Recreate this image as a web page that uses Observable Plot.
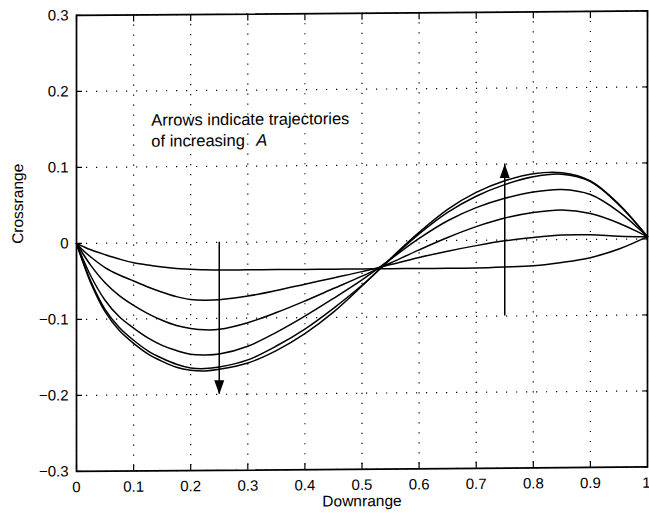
<!DOCTYPE html>
<html>
<head>
<meta charset="utf-8">
<script src="https://cdn.jsdelivr.net/npm/d3@7"></script>
<script src="https://cdn.jsdelivr.net/npm/@observablehq/plot@0.6"></script>
<style>
  html, body { margin: 0; padding: 0; background: #fff; overflow: hidden; }
  #chart svg { display: block; transform: skewY(-0.45deg); transform-origin: 50% 50%; }
</style>
</head>
<body>
<div id="chart"></div>
<script>
// Downrange sample positions
const downrange = [0, 0.01, 0.025, 0.05, 0.075, 0.1, 0.125, 0.15, 0.175, 0.2, 0.225, 0.25, 0.3, 0.35, 0.4, 0.45, 0.5, 0.55, 0.6, 0.65, 0.7, 0.75, 0.8, 0.85, 0.9, 0.95, 1];

// Crossrange of each trajectory (increasing A)
const crossrangeA1 = [0, -0.0035, -0.0085, -0.015, -0.021, -0.026, -0.029, -0.032, -0.034, -0.035, -0.036, -0.0365, -0.0365, -0.0365, -0.0365, -0.0365, -0.0365, -0.0365, -0.0365, -0.0365, -0.0365, -0.0355, -0.034, -0.030, -0.024, -0.013, 0.003];
const crossrangeA2 = [0, -0.008, -0.018, -0.032, -0.042, -0.050, -0.058, -0.065, -0.071, -0.075, -0.076, -0.0755, -0.071, -0.064, -0.056, -0.048, -0.040, -0.031, -0.022, -0.014, -0.007, -0.001, 0.003, 0.006, 0.006, 0.004, 0.003];
const crossrangeA3 = [0, -0.012, -0.029, -0.052, -0.069, -0.082, -0.093, -0.102, -0.109, -0.113, -0.115, -0.1145, -0.106, -0.093, -0.078, -0.062, -0.046, -0.029, -0.012, 0.004, 0.018, 0.029, 0.036, 0.039, 0.034, 0.021, 0.003];
const crossrangeA4 = [0, -0.018, -0.043, -0.075, -0.097, -0.112, -0.125, -0.135, -0.142, -0.147, -0.148, -0.147, -0.137, -0.119, -0.098, -0.075, -0.051, -0.024, 0.003, 0.026, 0.043, 0.055, 0.063, 0.066, 0.059, 0.036, 0.003];
const crossrangeA5 = [0, -0.021, -0.050, -0.087, -0.111, -0.128, -0.142, -0.152, -0.160, -0.165, -0.166, -0.164, -0.155, -0.137, -0.115, -0.088, -0.058, -0.024, 0.009, 0.037, 0.058, 0.073, 0.083, 0.086, 0.076, 0.045, 0.003];
const crossrangeA6 = [0, -0.022, -0.052, -0.090, -0.115, -0.132, -0.146, -0.156, -0.164, -0.168, -0.169, -0.167, -0.159, -0.143, -0.121, -0.093, -0.059, -0.023, 0.011, 0.041, 0.063, 0.078, 0.087, 0.088, 0.077, 0.046, 0.003];

// Axis ticks
const xTicks = [0, 0.1, 0.2, 0.3, 0.4, 0.5, 0.6, 0.7, 0.8, 0.9, 1];
const yTicks = [-0.3, -0.2, -0.1, 0, 0.1, 0.2, 0.3];

// Arrows (downrange position, start and end crossrange)
const arrowX = [0.25, 0.75];
const arrowFrom = [0, -0.1];
const arrowTo = [-0.2, 0.1];

// Texts
const xLabel = "Downrange";
const yLabel = "Crossrange";
const noteLine1 = "Arrows indicate trajectories";
const noteLine2 = "of increasing";
const noteSymbol = "A";

// Build tables for the library
const trajectories = [crossrangeA1, crossrangeA2, crossrangeA3, crossrangeA4, crossrangeA5, crossrangeA6];
const rows = trajectories.flatMap((ys, k) => ys.map((y, i) => ({x: downrange[i], y, k})));
const arrows = arrowX.map((x, i) => ({x, from: arrowFrom[i], to: arrowTo[i]}));
const xTicksInner = xTicks.slice(0, -1);
const xTickLast = xTicks.slice(-1);

// Filled arrowhead with tip at origin, pointing down
const arrowHead = {
  draw(ctx) {
    ctx.moveTo(0, 0);
    ctx.lineTo(-5, -14);
    ctx.lineTo(5, -14);
    ctx.closePath();
  }
};

const fmt = d => (d < 0 ? "\u2212" : "") + String(Math.abs(d));

const chart = Plot.plot({
  width: 649,
  height: 523,
  marginLeft: 76,
  marginRight: 2,
  marginTop: 13,
  marginBottom: 54,
  style: {fontFamily: "'Liberation Sans', Arial, Helvetica, sans-serif", fontSize: "15px", color: "black", background: "white"},
  x: {domain: [0, 1]},
  y: {domain: [-0.3, 0.3]},
  marks: [
    Plot.gridX(xTicks, {stroke: "black", strokeOpacity: 1, strokeWidth: 1.2, strokeDasharray: "1.2,8.8"}),
    Plot.gridY(yTicks, {stroke: "black", strokeOpacity: 1, strokeWidth: 1.2, strokeDasharray: "1.2,8.8"}),
    Plot.axisX({anchor: "bottom", ticks: xTicksInner, tickSize: -6, tickPadding: 16, tickFormat: fmt, label: null, strokeWidth: 1.2}),
    Plot.axisX({anchor: "bottom", ticks: xTickLast, tickSize: -6, tickPadding: 16, tickFormat: fmt, label: null, strokeWidth: 1.2, textAnchor: "end", dx: 3}),
    Plot.axisX({anchor: "top", ticks: xTicks, tickSize: -6, tickFormat: () => "", label: null, strokeWidth: 1.2}),
    Plot.axisY({anchor: "left", ticks: yTicks, tickSize: -6, tickPadding: 14, tickFormat: fmt, label: null, strokeWidth: 1.2}),
    Plot.axisY({anchor: "right", ticks: yTicks, tickSize: -6, tickFormat: () => "", label: null, strokeWidth: 1.2}),
    Plot.frame({stroke: "black", strokeWidth: 1.7}),
    Plot.line(rows, {x: "x", y: "y", z: "k", stroke: "black", strokeWidth: 1.5, curve: "catmull-rom"}),
    Plot.ruleX(arrows, {x: "x", y1: "from", y2: "to", stroke: "black", strokeWidth: 1.5}),
    Plot.dot(arrows, {x: "x", y: "to", symbol: arrowHead, rotate: d => (d.to > d.from ? 180 : 0), fill: "black", stroke: "none"}),
    Plot.text([noteLine1], {x: 0.131, y: 0.1612, text: d => d, textAnchor: "start", lineAnchor: "middle", fontSize: 16.5}),
    Plot.text([noteLine2], {x: 0.131, y: 0.1335, text: d => d, textAnchor: "start", lineAnchor: "middle", fontSize: 16.5}),
    Plot.text([noteSymbol], {x: 0.315, y: 0.1335, text: d => d, textAnchor: "start", lineAnchor: "middle", fontSize: 16.5, fontStyle: "italic"}),
    Plot.text([xLabel], {frameAnchor: "bottom", dy: 32, text: d => d, lineAnchor: "middle", fontSize: 15.5}),
    Plot.text([yLabel], {frameAnchor: "left", dx: -58, rotate: -90, text: d => d, lineAnchor: "middle", fontSize: 15.5})
  ]
});

document.getElementById("chart").appendChild(chart);
</script>
</body>
</html>
